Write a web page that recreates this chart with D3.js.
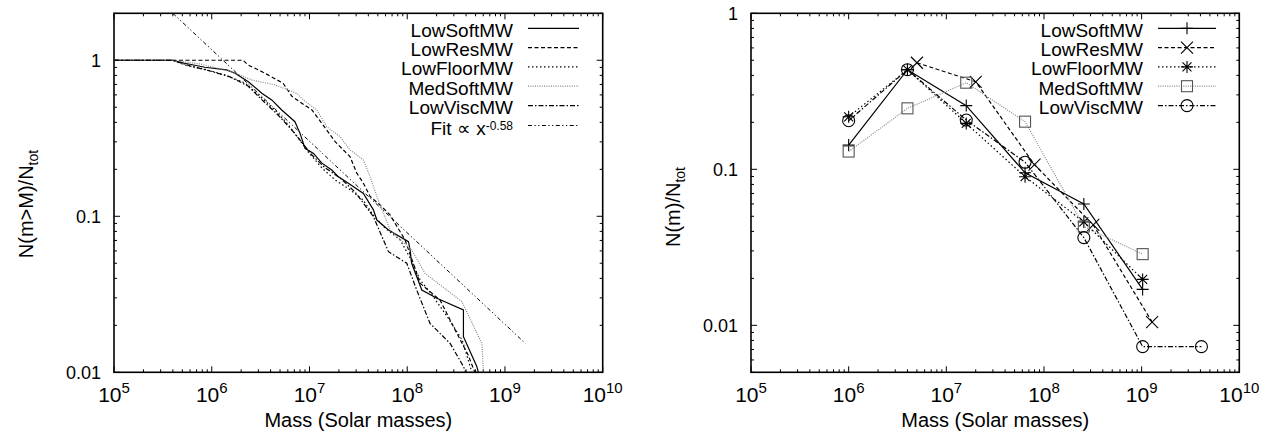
<!DOCTYPE html>
<html>
<head>
<meta charset="utf-8">
<script src="https://cdn.jsdelivr.net/npm/d3@7"></script>
<style>
body { margin: 0; background: #fff; }
text { font-family: "Liberation Sans", Arial, sans-serif; fill: #000; }
</style>
</head>
<body>
<script>
// left panel: cumulative fraction N(m>M)/Ntot, [mass, fraction]
const cumLowSoft = [[1e5, 1], [4.0e5, 1], [5.3e5, 0.957], [8.5e5, 0.902], [1.42e6, 0.867], [1.73e6, 0.826],
  [2.37e6, 0.729], [3.25e6, 0.614], [4.11e6, 0.557], [5.2e6, 0.48], [7.1e6, 0.404], [8.0e6, 0.34],
  [9.0e6, 0.273], [1.1e7, 0.253], [1.34e7, 0.219], [1.69e7, 0.198], [1.98e7, 0.179], [2.5e7, 0.163],
  [3.56e7, 0.14], [4.51e7, 0.11], [4.89e7, 0.0946], [6.43e7, 0.0817], [1.03e8, 0.0687], [1.07e8, 0.0608],
  [1.11e8, 0.05], [1.41e8, 0.0337], [2.01e8, 0.0298], [3.76e8, 0.0251], [3.76e8, 0.0169], [5.15e8, 0.0109],
  [5.36e8, 0.0099]]
const cumLowRes = [[1e5, 1], [2.09e6, 1], [2.35e6, 0.933], [3.27e6, 0.845], [5.37e6, 0.713], [6.64e6, 0.585],
  [1.06e7, 0.48], [1.34e7, 0.394], [1.83e7, 0.301], [2.6e7, 0.241], [3.05e7, 0.189], [3.56e7, 0.163],
  [4.17e7, 0.134], [5.28e7, 0.118], [6.68e7, 0.102], [9.51e7, 0.0705], [1.15e8, 0.0502], [1.35e8, 0.0373],
  [2.17e8, 0.029], [3.09e8, 0.0187], [4.2e8, 0.0129], [4.95e8, 0.0099]]
const cumLowFloor = [[1e5, 1], [4.0e5, 1], [5.33e5, 0.933], [8.53e5, 0.875], [1.37e6, 0.805], [2.19e6, 0.715],
  [3.0e6, 0.6], [4.44e6, 0.48], [6.08e6, 0.385], [7.69e6, 0.318], [9.74e6, 0.258], [1.34e7, 0.204],
  [1.83e7, 0.171], [2.6e7, 0.148], [3.54e7, 0.127], [4.48e7, 0.102], [5.94e7, 0.0841], [8.46e7, 0.0706],
  [1.07e8, 0.0541], [1.36e8, 0.039], [1.8e8, 0.0313], [2.62e8, 0.0223], [3.65e8, 0.0161], [4.61e8, 0.0099]]
const cumMedSoft = [[1e5, 1], [4.0e5, 1], [7.6e5, 0.947], [1.6e6, 0.845], [2.57e6, 0.748], [4.44e6, 0.695],
  [7.41e6, 0.614], [8.66e6, 0.557], [1.19e7, 0.48], [1.5e7, 0.375], [2.06e7, 0.324], [2.6e7, 0.266],
  [3.56e7, 0.23], [4.17e7, 0.179], [4.89e7, 0.134], [5.71e7, 0.105], [6.68e7, 0.0817], [1.11e8, 0.0608],
  [1.52e8, 0.0431], [3.62e8, 0.0284], [5.81e8, 0.0153], [6.03e8, 0.0099]]
const cumLowVisc = [[1e5, 1], [4.0e5, 1], [6.0e5, 0.919], [9.6e5, 0.854], [1.54e6, 0.782], [2.35e6, 0.684],
  [3.27e6, 0.557], [4.77e6, 0.446], [6.33e6, 0.368], [8.0e6, 0.308], [1.06e7, 0.247], [1.45e7, 0.204],
  [2.06e7, 0.176], [2.93e7, 0.143], [4.51e7, 0.0994], [6.43e7, 0.0593], [9.9e7, 0.05], [1.25e8, 0.0337],
  [1.71e8, 0.0206], [2.75e8, 0.0153], [3.76e8, 0.0109], [4.0e8, 0.0099]]
const fitLine = [[4.0e5, 2.0], [1.62e9, 0.0153]]
const fitExponent = '-0.58'

// right panel: differential fraction N(m)/Ntot per mass bin
const binMass = [1e6, 4e6, 1.6e7, 6.4e7, 2.56e8, 1.024e9, 4.096e9]
const binMassRes = [5e6, 2e7, 8e7, 3.2e8, 1.28e9]
const difLowSoft = [0.143, 0.435, 0.256, 0.095, 0.06, 0.017]
const difLowRes = [0.482, 0.364, 0.107, 0.044, 0.0105]
const difLowFloor = [0.217, 0.435, 0.197, 0.0897, 0.046, 0.0197]
const difMedSoft = [0.13, 0.246, 0.359, 0.202, 0.043, 0.0286]
const difLowVisc = [0.205, 0.435, 0.207, 0.111, 0.0365, 0.0073, 0.0073]

const runNames = ['LowSoftMW', 'LowResMW', 'LowFloorMW', 'MedSoftMW', 'LowViscMW']

const styles = [
  { dash: null, color: '#000', marker: 'plus' },
  { dash: '4,2.5', color: '#000', marker: 'cross' },
  { dash: '1.5,2.5', color: '#000', marker: 'star' },
  { dash: '1,1.3', color: '#888', marker: 'square' },
  { dash: '5,2,1.5,2', color: '#000', marker: 'circle' },
]
const fitDash = '4,2.5,1.2,2.5,1.2,2.5'

const svg = d3.select('body').append('svg').attr('width', 1273).attr('height', 432)

const xLeft = d3.scaleLog().domain([1e5, 1e10]).range([114, 602.7])
const yLeft = d3.scaleLog().domain([0.01, 2]).range([372.3, 13.3])
const xRight = d3.scaleLog().domain([1e5, 1e10]).range([751, 1239.3])
const yRight = d3.scaleLog().domain([0.005, 1]).range([372.3, 13.3])

const isDecade = v => Math.abs(Math.log10(v) - Math.round(Math.log10(v))) < 1e-6

function frame(g, x, y, yLabel, id) {
  const [x0, x1] = x.range()
  const [yb, yt] = y.range()

  g.append('clipPath').attr('id', id)
    .append('rect').attr('x', x0).attr('y', yt).attr('width', x1 - x0).attr('height', yb - yt)

  const ticks = g.append('g').attr('stroke', '#000').attr('stroke-width', 1)
  x.ticks().forEach(v => {
    const len = isDecade(v) ? 6 : 3
    const px = x(v)
    ticks.append('line').attr('x1', px).attr('x2', px).attr('y1', yb).attr('y2', yb - len)
    ticks.append('line').attr('x1', px).attr('x2', px).attr('y1', yt).attr('y2', yt + len)
  })
  y.ticks().forEach(v => {
    const len = isDecade(v) ? 6 : 3
    const py = y(v)
    ticks.append('line').attr('x1', x0).attr('x2', x0 + len).attr('y1', py).attr('y2', py)
    ticks.append('line').attr('x1', x1).attr('x2', x1 - len).attr('y1', py).attr('y2', py)
  })

  g.append('rect').attr('x', x0).attr('y', yt).attr('width', x1 - x0).attr('height', yb - yt)
    .attr('fill', 'none').attr('stroke', '#000').attr('stroke-width', 1.6)

  // x tick labels 10^n
  x.ticks().filter(isDecade).forEach(v => {
    const t = g.append('text').attr('x', x(v)).attr('y', 401.5)
      .attr('text-anchor', 'middle').style('font-size', '21px')
    t.append('tspan').text('10')
    t.append('tspan').attr('dy', -8.5).style('font-size', '15px').text(Math.round(Math.log10(v)))
  })

  // y tick labels
  y.ticks().filter(isDecade).forEach(v => {
    g.append('text').attr('x', x0 - 13).attr('y', y(v) + 6.5)
      .attr('text-anchor', 'end').style('font-size', '18px').text(String(v))
  })

  g.append('text').attr('x', (x0 + x1) / 2).attr('y', 427)
    .attr('text-anchor', 'middle').style('font-size', '20px').text('Mass (Solar masses)')

  const yl = g.append('text')
    .attr('transform', `translate(${yLabel.x},${yLabel.y}) rotate(-90)`)
    .attr('text-anchor', 'middle').style('font-size', '20px')
  yl.append('tspan').text(yLabel.text)
  yl.append('tspan').attr('dy', 5).style('font-size', '14px').text('tot')
}

function marker(g, type, cx, cy, color) {
  const m = g.append('g').attr('transform', `translate(${cx},${cy})`)
    .attr('fill', 'none').attr('stroke', color).attr('stroke-width', 1.1)
  if (type === 'plus') m.append('path').attr('d', 'M-6,0H6M0,-6V6')
  if (type === 'cross') m.append('path').attr('d', 'M-6,-6L6,6M-6,6L6,-6')
  if (type === 'star') m.append('path').attr('d', 'M-6,0H6M0,-6V6M-4.5,-4.5L4.5,4.5M-4.5,4.5L4.5,-4.5')
  if (type === 'square') m.append('rect').attr('x', -5.5).attr('y', -5.5).attr('width', 11).attr('height', 11)
  if (type === 'circle') m.append('circle').attr('r', 6)
}

// ---------- left panel ----------
const left = svg.append('g')
frame(left, xLeft, yLeft, { x: 33, y: 204, text: 'N(m>M)/N' }, 'clipL')

const lineL = d3.line().x(d => xLeft(d[0])).y(d => yLeft(d[1]))
const cumSeries = [cumLowSoft, cumLowRes, cumLowFloor, cumMedSoft, cumLowVisc]
const plotL = left.append('g').attr('clip-path', 'url(#clipL)')

plotL.selectAll('path.run')
  .data(cumSeries)
  .enter()
  .append('path')
  .attr('class', 'run')
  .attr('fill', 'none')
  .attr('stroke', (d, i) => styles[i].color)
  .attr('stroke-width', 1.2)
  .attr('stroke-dasharray', (d, i) => styles[i].dash)
  .attr('d', lineL)

plotL.append('path').datum(fitLine)
  .attr('fill', 'none').attr('stroke', '#000').attr('stroke-width', 1)
  .attr('stroke-dasharray', fitDash).attr('d', lineL)

const legendRows = [36.7, 56, 75.3, 94.6, 114, 135]
runNames.forEach((name, i) => {
  left.append('text').attr('x', 513).attr('y', legendRows[i])
    .attr('text-anchor', 'end').style('font-size', '19px').text(name)
  left.append('line').attr('x1', 528).attr('x2', 579)
    .attr('y1', legendRows[i] - 8.4).attr('y2', legendRows[i] - 8.4)
    .attr('stroke', styles[i].color).attr('stroke-width', 1.2)
    .attr('stroke-dasharray', styles[i].dash)
})
const fitText = left.append('text').attr('x', 513).attr('y', legendRows[5])
  .attr('text-anchor', 'end').style('font-size', '19px')
fitText.append('tspan').text('Fit \u221D x')
fitText.append('tspan').attr('dy', -5).style('font-size', '12px').text(fitExponent)
left.append('line').attr('x1', 528).attr('x2', 579)
  .attr('y1', legendRows[5] - 9.5).attr('y2', legendRows[5] - 9.5)
  .attr('stroke', '#000').attr('stroke-width', 1).attr('stroke-dasharray', fitDash)

// ---------- right panel ----------
const right = svg.append('g')
frame(right, xRight, yRight, { x: 680, y: 207, text: 'N(m)/N' }, 'clipR')

const lineR = d3.line().x(d => xRight(d[0])).y(d => yRight(d[1]))
const difSeries = [
  difLowSoft.map((v, i) => [binMass[i], v]),
  difLowRes.map((v, i) => [binMassRes[i], v]),
  difLowFloor.map((v, i) => [binMass[i], v]),
  difMedSoft.map((v, i) => [binMass[i], v]),
  difLowVisc.map((v, i) => [binMass[i], v]),
]
const plotR = right.append('g').attr('clip-path', 'url(#clipR)')

difSeries.forEach((data, i) => {
  plotR.append('path').datum(data)
    .attr('fill', 'none')
    .attr('stroke', styles[i].color)
    .attr('stroke-width', 1.2)
    .attr('stroke-dasharray', styles[i].dash)
    .attr('d', lineR)
})
difSeries.forEach((data, i) => {
  data.forEach(d => marker(plotR, styles[i].marker, xRight(d[0]), yRight(d[1]), i === 3 ? '#555' : '#000'))
})

runNames.forEach((name, i) => {
  right.append('text').attr('x', 1143).attr('y', legendRows[i])
    .attr('text-anchor', 'end').style('font-size', '19px').text(name)
  right.append('line').attr('x1', 1158).attr('x2', 1216)
    .attr('y1', legendRows[i] - 8.4).attr('y2', legendRows[i] - 8.4)
    .attr('stroke', styles[i].color).attr('stroke-width', 1.2)
    .attr('stroke-dasharray', styles[i].dash)
  marker(right, styles[i].marker, 1187, legendRows[i] - 8.4, i === 3 ? '#555' : '#000')
})
</script>
</body>
</html>
